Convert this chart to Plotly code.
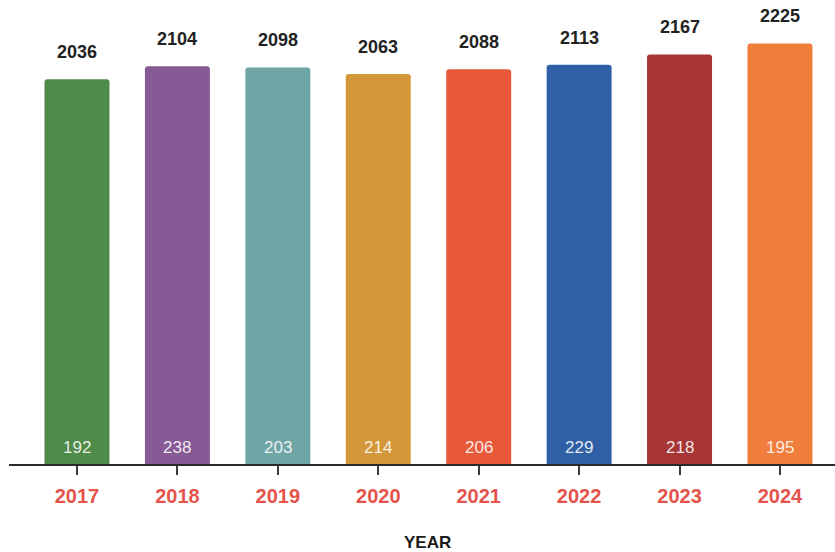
import plotly.graph_objects as go

years = ["2017", "2018", "2019", "2020", "2021", "2022", "2023", "2024"]
totals = [2036, 2104, 2098, 2063, 2088, 2113, 2167, 2225]
inner = [192, 238, 203, 214, 206, 229, 218, 195]
colors = ["#4e8a48", "#875a96", "#6fa5a5", "#d4973a",
          "#e8593a", "#2f5fa5", "#a83535", "#f17d3c"]

fig = go.Figure()
fig.add_trace(go.Bar(
    x=years, y=totals,
    marker=dict(color=colors, line=dict(width=0)),
    hoverinfo="x+y",
))

annotations = []
for i, (t, v) in enumerate(zip(totals, inner)):
    annotations.append(dict(
        x=i, y=t, xref="x", yref="y", text=f"<b>{t}</b>",
        showarrow=False, yanchor="middle", yshift=27,
        font=dict(family="Liberation Sans, Arial, sans-serif", size=18, color="#222222"),
    ))
    annotations.append(dict(
        x=i, y=0, xref="x", yref="y", text=str(v),
        showarrow=False, yanchor="middle", yshift=17,
        font=dict(family="Liberation Sans, Arial, sans-serif", size=17,
                  color="rgba(255,255,255,0.88)"),
    ))
annotations.append(dict(
    x=0.5, y=0, xref="paper", yref="paper", text="<b>YEAR</b>",
    showarrow=False, yanchor="middle", xshift=5, yshift=-78,
    font=dict(family="Liberation Sans, Arial, sans-serif", size=17, color="#1a1a1a"),
))

fig.update_layout(
    width=835, height=552,
    margin=dict(l=9, r=0, t=0, b=88, pad=0),
    paper_bgcolor="white", plot_bgcolor="white",
    bargap=0.353,
    barcornerradius=3,
    showlegend=False,
    annotations=annotations,
    xaxis=dict(
        type="category",
        range=[-0.677, 7.548],
        showline=True, linecolor="#2a2a2a", linewidth=2,
        ticks="outside", ticklen=9, tickwidth=2, tickcolor="#3a3a3a",
        showgrid=False, zeroline=False,
        tickfont=dict(family="Liberation Sans, Arial, sans-serif", size=20, color="#e5534b", weight="bold"),
        ticklabelstandoff=4,
    ),
    yaxis=dict(
        range=[0, 2455],
        visible=False, showgrid=False, zeroline=False,
    ),
)

fig.write_html(
    "out.html",
    config={"displayModeBar": False},
    post_script="document.body.style.margin='0';document.body.style.overflow='hidden';",
)
